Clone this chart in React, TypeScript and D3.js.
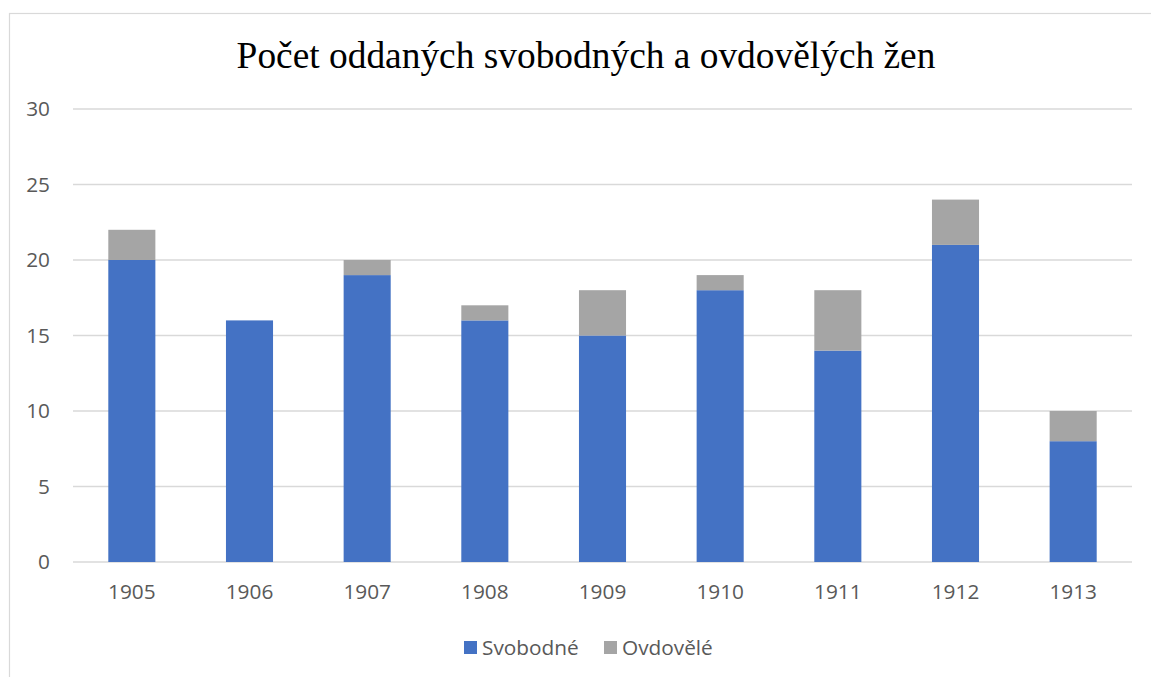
import React from "react";
import * as d3 from "d3";

const years = ["1905", "1906", "1907", "1908", "1909", "1910", "1911", "1912", "1913"];
const svobodne = [20, 16, 19, 16, 15, 18, 14, 21, 8];
const ovdovele = [2, 0, 1, 1, 3, 1, 4, 3, 2];
const seriesNames = ["Svobodné", "Ovdovělé"];
const seriesColors = ["#4472C4", "#A5A5A5"];
const yTicks = [0, 5, 10, 15, 20, 25, 30];
const title = "Počet oddaných svobodných a ovdovělých žen";

const W = 1151;
const H = 677;
const plot = { left: 73, right: 1132, top: 109, bottom: 562 };
const labelFont = "'Open Sans', 'Liberation Sans', sans-serif";
const fs = 20.8;

export default function App() {
  const x = d3
    .scaleBand<string>()
    .domain(years)
    .range([plot.left, plot.right])
    .paddingInner(0.6)
    .paddingOuter(0.3);
  const y = d3.scaleLinear().domain([0, 30]).range([plot.bottom, plot.top]);

  const rows = years.map((yr, i) => ({ year: yr, Svobodné: svobodne[i], Ovdovělé: ovdovele[i] }));
  const stacked = d3.stack<any>().keys(seriesNames)(rows);

  return (
    <svg
      width={W}
      height={H}
      style={{ position: "absolute", left: 0, top: 0, background: "#fff" }}
    >
      <rect x={9.5} y={13.5} width={W} height={H} fill="#fff" stroke="#D9D9D9" strokeWidth={1.2} />
      <text
        x={586}
        y={68}
        textAnchor="middle"
        fontFamily="'Liberation Serif', 'Times New Roman', serif"
        fontSize={37.4}
        fill="#000"
      >
        {title}
      </text>
      {yTicks.map((t) => (
        <g key={t}>
          <line x1={plot.left} x2={plot.right} y1={y(t)} y2={y(t)} stroke="#D9D9D9" strokeWidth={1.3} />
          <text
            x={50}
            y={y(t)}
            dy="0.35em"
            textAnchor="end"
            fontFamily={labelFont}
            fontSize={fs}
            fill="#595959"
          >
            {t}
          </text>
        </g>
      ))}
      {stacked.map((s, si) => (
        <g key={s.key} fill={seriesColors[si]}>
          {s.map((d, i) =>
            d[1] - d[0] > 0 ? (
              <rect
                key={i}
                x={x(years[i])}
                y={y(d[1])}
                width={x.bandwidth()}
                height={y(d[0]) - y(d[1])}
              />
            ) : null
          )}
        </g>
      ))}
      {years.map((yr) => (
        <text
          key={yr}
          x={(x(yr) as number) + x.bandwidth() / 2}
          y={599}
          textAnchor="middle"
          fontFamily={labelFont}
          fontSize={fs}
          fill="#595959"
        >
          {yr}
        </text>
      ))}
      <g>
        <rect x={464} y={641} width={13} height={13} fill={seriesColors[0]} />
        <text x={482} y={655} fontFamily={labelFont} fontSize={fs} fill="#595959">
          {seriesNames[0]}
        </text>
        <rect x={604} y={641} width={13} height={13} fill={seriesColors[1]} />
        <text x={622} y={655} fontFamily={labelFont} fontSize={fs} fill="#595959">
          {seriesNames[1]}
        </text>
      </g>
    </svg>
  );
}
